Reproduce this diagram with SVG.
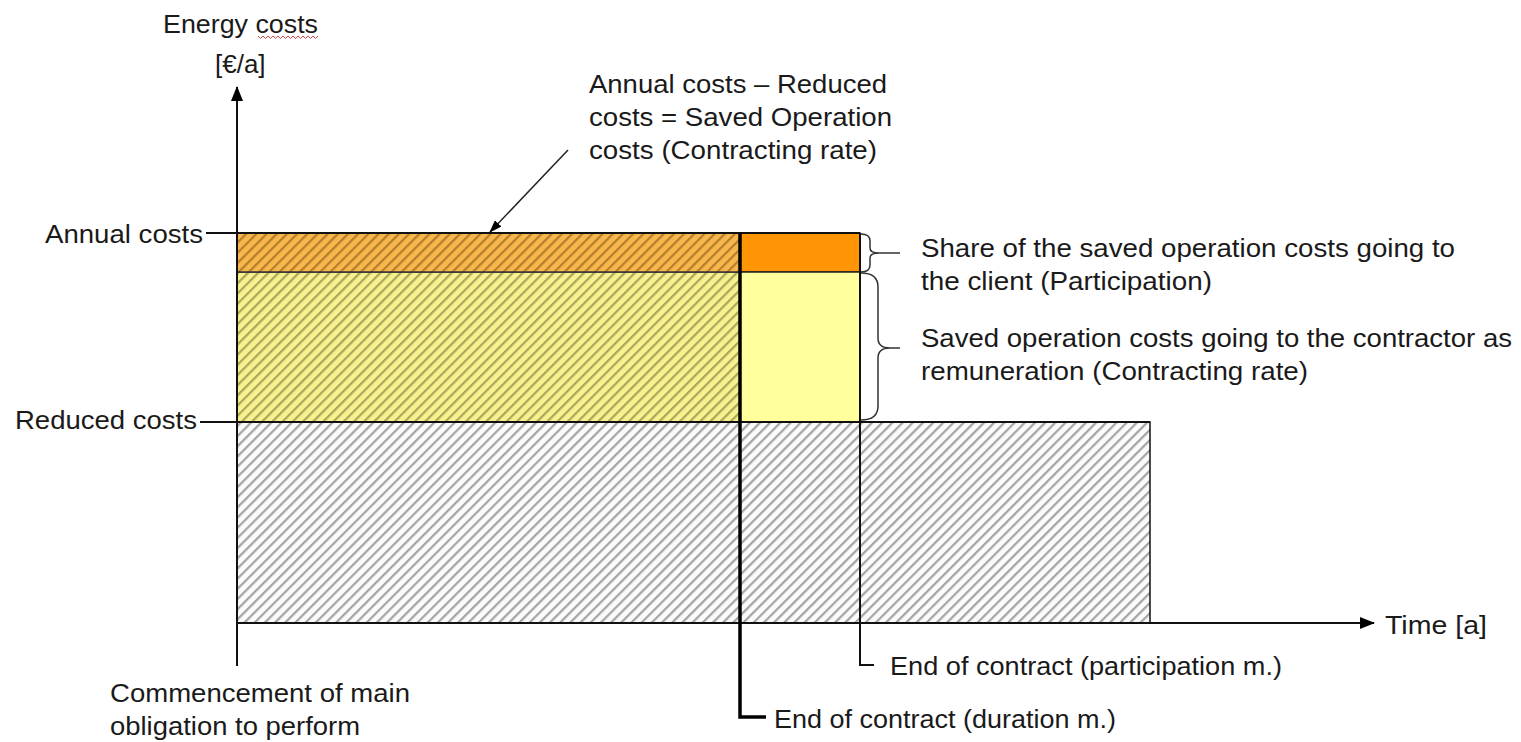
<svg xmlns="http://www.w3.org/2000/svg" width="1521" height="742" viewBox="0 0 1521 742">
<style>
text{font-family:"Liberation Sans",Arial,sans-serif;font-size:26px;fill:#1a1a1a}
.ln{stroke:#111;stroke-width:2;fill:none}
.thick{stroke:#000;stroke-width:3.5;fill:none}
.brace{stroke:#333;stroke-width:1.5;fill:none}
</style>
<defs>
<pattern id="hGray" patternUnits="userSpaceOnUse" width="7.2" height="7.2" patternTransform="rotate(45)">
<rect width="7.2" height="7.2" fill="#fbfbfb"/><line x1="1" y1="0" x2="1" y2="7.2" stroke="#a4a4a4" stroke-width="2.4"/>
</pattern>
<pattern id="hYellow" patternUnits="userSpaceOnUse" width="7.2" height="7.2" patternTransform="rotate(45)">
<rect width="7.2" height="7.2" fill="#f7f28e"/><line x1="1" y1="0" x2="1" y2="7.2" stroke="#aca65c" stroke-width="2.4"/>
</pattern>
<pattern id="hOrange" patternUnits="userSpaceOnUse" width="7.2" height="7.2" patternTransform="rotate(45)">
<rect width="7.2" height="7.2" fill="#f7b74b"/><line x1="1" y1="0" x2="1" y2="7.2" stroke="#b57d2e" stroke-width="2.4"/>
</pattern>
<marker id="ah" markerWidth="13" markerHeight="9" refX="12" refY="4.5" orient="auto" markerUnits="userSpaceOnUse">
<path d="M0,0 L13,4.5 L0,9 Z" fill="#000"/>
</marker>
<marker id="ahBig" markerWidth="15" markerHeight="12" refX="14" refY="6" orient="auto" markerUnits="userSpaceOnUse">
<path d="M0,0 L15,6 L0,12 Z" fill="#000"/>
</marker>
</defs>

<g id="areas">
<rect id="gray-area" x="237" y="422" width="913" height="201" fill="url(#hGray)" stroke="#111" stroke-width="1.5"/>
<rect id="yellow-hatched" x="237" y="272" width="503" height="150" fill="url(#hYellow)" stroke="#333" stroke-width="1.5"/>
<rect id="orange-hatched" x="237" y="233" width="503" height="39" fill="url(#hOrange)" stroke="#333" stroke-width="1.5"/>
<rect id="orange-solid" x="740" y="233" width="120" height="39" fill="#ff9405" stroke="#222" stroke-width="1.5"/>
<rect id="yellow-solid" x="740" y="272" width="120" height="150" fill="#ffff9c" stroke="#222" stroke-width="1.5"/>
</g>

<g id="connectors">
<line id="y-axis" class="ln" x1="237" y1="666" x2="237" y2="87" marker-end="url(#ahBig)"/>
<line id="x-axis" class="ln" x1="237" y1="623" x2="1374" y2="623" marker-end="url(#ahBig)"/>
<line id="annual-line" class="ln" x1="206" y1="233" x2="860" y2="233"/>
<line id="reduced-line" class="ln" x1="200" y1="422" x2="1150" y2="422"/>
<path id="duration-line" class="thick" d="M740,233 V717 H766"/>
<path id="participation-line" class="ln" d="M860,233 V665 H874"/>
<line id="rate-arrow" stroke="#222" stroke-width="1.5" x1="568" y1="150" x2="490" y2="232" marker-end="url(#ah)"/>
<path id="brace-top" class="brace" d="M861,234 Q870,234 870,241 V248 Q870,253 879,253 H900 M879,253 Q870,253 870,258 V265 Q870,272 861,272"/>
<path id="brace-bottom" class="brace" d="M861,273 Q878,273 878,287 V338 Q878,348 890,348 H900 M890,348 Q878,348 878,358 V406 Q878,420 861,420"/>
<path id="spell" d="M258,36 l2.5,2.5 l2.5,-2.5 l2.5,2.5 l2.5,-2.5 l2.5,2.5 l2.5,-2.5 l2.5,2.5 l2.5,-2.5 l2.5,2.5 l2.5,-2.5 l2.5,2.5 l2.5,-2.5 l2.5,2.5 l2.5,-2.5 l2.5,2.5 l2.5,-2.5 l2.5,2.5 l2.5,-2.5 l2.5,2.5 l2.5,-2.5 l2.5,2.5 l2.5,-2.5 l2.5,2.5 l2.5,-2.5" stroke="#d04848" stroke-width="1" fill="none"/>
</g>

<g id="labels">
<g id="y-axis-label"><text x="163" y="33" textLength="155" lengthAdjust="spacingAndGlyphs">Energy costs</text><text x="215" y="73">[€/a]</text></g>
<g id="annual-label"><text x="45" y="243" textLength="158" lengthAdjust="spacingAndGlyphs">Annual costs</text></g>
<g id="reduced-label"><text x="15" y="429" textLength="182" lengthAdjust="spacingAndGlyphs">Reduced costs</text></g>
<g id="rate-label">
<text x="589" y="93" textLength="298" lengthAdjust="spacingAndGlyphs">Annual costs – Reduced</text>
<text x="589" y="126" textLength="303" lengthAdjust="spacingAndGlyphs">costs = Saved Operation</text>
<text x="589" y="159" textLength="288" lengthAdjust="spacingAndGlyphs">costs (Contracting rate)</text>
</g>
<g id="participation-label">
<text x="921" y="257" textLength="534" lengthAdjust="spacingAndGlyphs">Share of the saved operation costs going to</text>
<text x="921" y="290" textLength="291" lengthAdjust="spacingAndGlyphs">the client (Participation)</text>
</g>
<g id="contractor-label">
<text x="921" y="347" textLength="591" lengthAdjust="spacingAndGlyphs">Saved operation costs going to the contractor as</text>
<text x="921" y="380" textLength="387" lengthAdjust="spacingAndGlyphs">remuneration (Contracting rate)</text>
</g>
<g id="time-label"><text x="1385" y="634" textLength="102" lengthAdjust="spacingAndGlyphs">Time [a]</text></g>
<g id="end-participation"><text x="890" y="675" textLength="392" lengthAdjust="spacingAndGlyphs">End of contract (participation m.)</text></g>
<g id="end-duration"><text x="774" y="728" textLength="342" lengthAdjust="spacingAndGlyphs">End of contract (duration m.)</text></g>
<g id="commencement"><text x="110" y="702" textLength="300" lengthAdjust="spacingAndGlyphs">Commencement of main</text><text x="110" y="735" textLength="250" lengthAdjust="spacingAndGlyphs">obligation to perform</text></g>
</g>
</svg>
